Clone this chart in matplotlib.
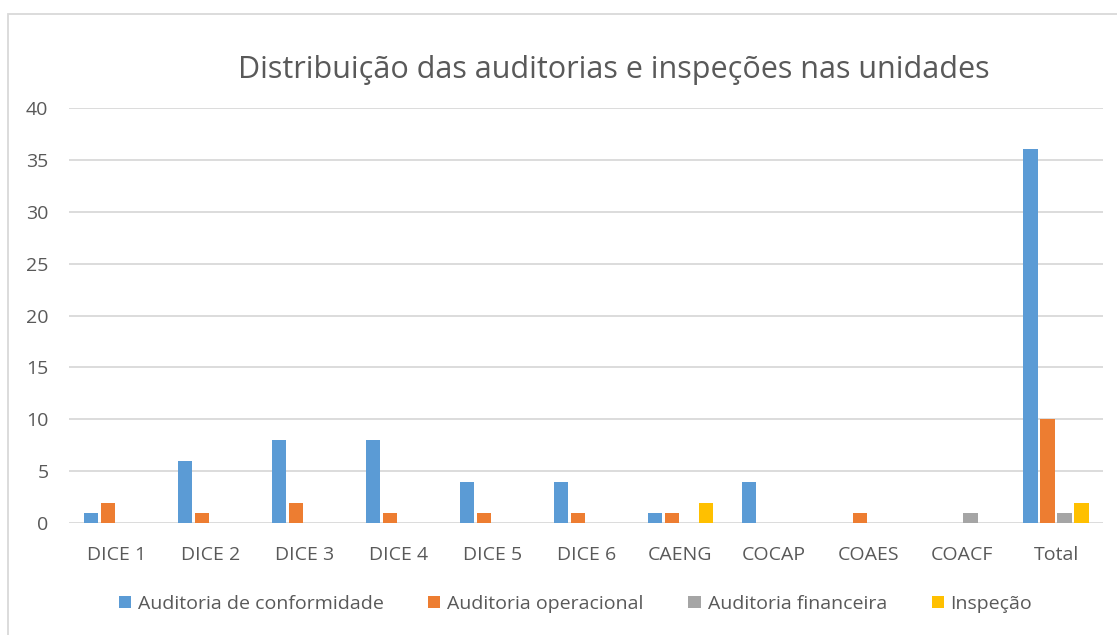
import matplotlib
matplotlib.use("Agg")
import matplotlib.pyplot as plt
import numpy as np
from matplotlib.patches import Rectangle, Patch

categories = ["DICE 1", "DICE 2", "DICE 3", "DICE 4", "DICE 5", "DICE 6",
              "CAENG", "COCAP", "COAES", "COACF", "Total"]
series_names = ["Auditoria de conformidade", "Auditoria operacional",
                "Auditoria financeira", "Inspeção"]
conformidade = [1, 6, 8, 8, 4, 4, 1, 4, 0, 0, 36]
operacional = [2, 1, 2, 1, 1, 1, 1, 0, 1, 0, 10]
financeira = [0, 0, 0, 0, 0, 0, 0, 0, 0, 1, 1]
inspecao = [0, 0, 0, 0, 0, 0, 2, 0, 0, 0, 2]
colors = ["#5B9BD5", "#ED7D31", "#A5A5A5", "#FFC000"]
yticks = [0, 5, 10, 15, 20, 25, 30, 35, 40]

plt.rcParams['font.family'] = ['Open Sans', 'DejaVu Sans']
txt = "#595959"

W, H = 1117, 635
fig = plt.figure(figsize=(W / 100, H / 100), dpi=100)

# outer frame
fig.patches.append(Rectangle((8 / W, -0.05), 1.2, 1 - 14 / H + 0.05,
                             transform=fig.transFigure, fill=False,
                             edgecolor="#D9D9D9", linewidth=1.3))

ax = fig.add_axes([69.3 / W, 1 - 523.3 / H, (1103 - 69.3) / W, (523.3 - 107.8) / H])
ax.set_xlim(-0.5, len(categories) - 0.5)
ax.set_ylim(0, 40)

x = np.arange(len(categories))
pitch = 0.181
bw = 0.150
data = [conformidade, operacional, financeira, inspecao]
for i, (vals, c, name) in enumerate(zip(data, colors, series_names)):
    ax.bar(x + (i - 1.5) * pitch, vals, width=bw, color=c, zorder=3, label=name)

ax.set_yticks(yticks)
ax.set_xticks(x)
ax.set_xticklabels(categories)
ax.grid(axis="y", color="#D9D9D9", linewidth=1.3, zorder=0)
for s in ax.spines.values():
    s.set_visible(False)
ax.tick_params(axis="both", length=0, labelsize=14, colors=txt)
ax.tick_params(axis="x", pad=16)
ax.tick_params(axis="y", pad=15)

fig.text(613.5 / W, 1 - 78.3 / H, "Distribuição das auditorias e inspeções nas unidades",
         ha="center", va="baseline", fontsize=22, color=txt)

handles = [Patch(facecolor=c, edgecolor="none") for c in colors]
leg = fig.legend(handles, series_names, loc="center", bbox_to_anchor=(575.5 / W, 1 - 604 / H),
                 ncol=4, frameon=False, fontsize=14, handlelength=0.62, handleheight=0.62,
                 handletextpad=0.36, columnspacing=2.3, borderaxespad=0)
for t in leg.get_texts():
    t.set_color(txt)

fig.savefig("out.png", dpi=100)
